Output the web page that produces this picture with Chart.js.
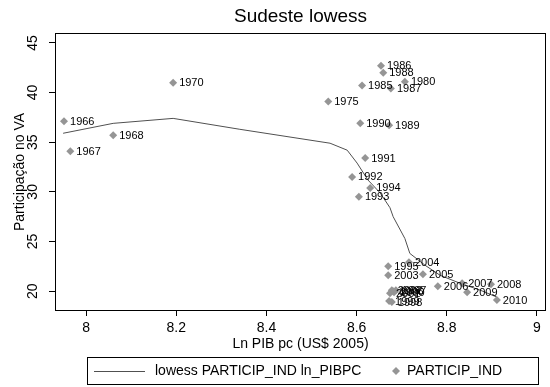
<!DOCTYPE html>
<html lang="pt">
<head>
<meta charset="UTF-8">
<title>Sudeste lowess</title>
<script src="https://cdn.jsdelivr.net/npm/chart.js"></script>
<style>
  body { margin: 0; background: #fff; }
  .grafico { width: 550px; height: 387px; }
</style>
</head>
<body>
<div class="grafico"><canvas id="meuGrafico"></canvas></div>
<script>
// dados (Ln PIB pc x participacao da industria)
var anos = ['1966', '1967', '1968', '1970', '1975', '1980', '1985', '1986', '1987', '1988',
            '1989', '1990', '1991', '1992', '1993', '1994', '1995', '1996', '1997', '1998',
            '1999', '2000', '2001', '2002', '2003', '2004', '2005', '2006', '2007', '2008',
            '2009', '2010'];
var lnPibpc = [7.951, 7.965, 8.060, 8.193, 8.537, 8.707, 8.612, 8.654, 8.676, 8.659,
               8.672, 8.608, 8.619, 8.590, 8.605, 8.630, 8.670, 8.681, 8.687, 8.678,
               8.672, 8.683, 8.674, 8.678, 8.670, 8.716, 8.747, 8.780, 8.834, 8.898,
               8.845, 8.911];
var participInd = [37.1, 34.1, 35.7, 41.0, 39.1, 41.1, 40.7, 42.7, 40.4, 42.0,
                   36.7, 36.9, 33.4, 31.5, 29.5, 30.4, 22.5, 20.0, 20.1, 18.9,
                   19.0, 19.9, 19.8, 20.1, 21.6, 22.9, 21.7, 20.5, 20.8, 20.7,
                   19.9, 19.1];

// curva lowess
var lowessX = [7.949, 8.060, 8.193, 8.341, 8.541, 8.579, 8.601, 8.625, 8.652, 8.674,
               8.681, 8.707, 8.718, 8.752, 8.785, 8.829, 8.874, 8.911];
var lowessY = [35.9, 36.9, 37.4, 36.3, 34.9, 34.2, 32.9, 31.2, 29.9, 28.4,
               27.5, 25.3, 23.8, 22.6, 21.6, 20.8, 20.1, 19.4];

var ticksX = [8, 8.2, 8.4, 8.6, 8.8, 9];
var ticksY = [20, 25, 30, 35, 40, 45];

var fonte = '"Liberation Sans", Arial, sans-serif';
var corPonto = '#959595';
var corLinha = '#505050';

function losango(ctx, x, y, r) {
  ctx.beginPath();
  ctx.moveTo(x, y - r);
  ctx.lineTo(x + r, y);
  ctx.lineTo(x, y + r);
  ctx.lineTo(x - r, y);
  ctx.closePath();
  ctx.fill();
}

var extras = {
  id: 'extras',
  afterDraw: function (chart) {
    var ctx = chart.ctx;
    var a = chart.chartArea;
    ctx.save();

    // moldura
    ctx.strokeStyle = '#000';
    ctx.lineWidth = 1;
    ctx.strokeRect(a.left + 0.5, a.top + 0.5, a.right - a.left - 1, a.bottom - a.top - 1);

    // rotulos do eixo y (verticais)
    var y = chart.scales.y;
    ctx.fillStyle = '#000';
    ctx.font = '14px ' + fonte;
    ctx.textAlign = 'center';
    ctx.textBaseline = 'middle';
    for (var i = 0; i < ticksY.length; i++) {
      var py = y.getPixelForValue(ticksY[i]);
      ctx.save();
      ctx.translate(33, py);
      ctx.rotate(-Math.PI / 2);
      ctx.fillText(String(ticksY[i]), 0, 0);
      ctx.restore();
    }

    // anos ao lado dos pontos
    var meta = chart.getDatasetMeta(0);
    ctx.font = '11px ' + fonte;
    ctx.textAlign = 'left';
    for (var j = 0; j < meta.data.length; j++) {
      var p = meta.data[j];
      ctx.fillText(anos[j], p.x + 6, p.y + 0.5);
    }

    // titulo
    ctx.font = '19px ' + fonte;
    ctx.textAlign = 'center';
    ctx.fillText('Sudeste lowess', (a.left + a.right) / 2, 17);

    // legenda
    ctx.strokeStyle = '#000';
    ctx.strokeRect(87.5, 357.5, 451, 27);
    ctx.strokeStyle = corLinha;
    ctx.beginPath();
    ctx.moveTo(94, 371.5);
    ctx.lineTo(145, 371.5);
    ctx.stroke();
    ctx.font = '14px ' + fonte;
    ctx.textAlign = 'left';
    ctx.fillStyle = '#000';
    ctx.fillText('lowess PARTICIP_IND ln_PIBPC', 155, 371.5);
    ctx.fillStyle = corPonto;
    losango(ctx, 396, 371, 4);
    ctx.fillStyle = '#000';
    ctx.fillText('PARTICIP_IND', 407, 371.5);

    ctx.restore();
  }
};

var pontos = [];
for (var k = 0; k < anos.length; k++) {
  pontos.push({ x: lnPibpc[k], y: participInd[k] });
}
var curva = [];
for (var m = 0; m < lowessX.length; m++) {
  curva.push({ x: lowessX[m], y: lowessY[m] });
}

var ctx = document.getElementById('meuGrafico').getContext('2d');
var grafico = new Chart(ctx, {
  type: 'scatter',
  data: {
    datasets: [{
      label: 'PARTICIP_IND',
      data: pontos,
      pointStyle: 'rectRot',
      pointRadius: 4,
      pointBackgroundColor: corPonto,
      pointBorderWidth: 0
    }, {
      label: 'lowess PARTICIP_IND ln_PIBPC',
      type: 'line',
      data: curva,
      showLine: true,
      borderColor: corLinha,
      borderWidth: 1,
      pointRadius: 0,
      tension: 0,
      fill: false
    }]
  },
  options: {
    animation: false,
    responsive: true,
    maintainAspectRatio: false,
    devicePixelRatio: 1,
    layout: { padding: { top: 33, right: 4, left: 0, bottom: 0 } },
    plugins: {
      legend: { display: false },
      title: { display: false },
      tooltip: { enabled: false }
    },
    scales: {
      x: {
        type: 'linear',
        min: 7.931,
        max: 9.02,
        afterBuildTicks: function (s) { s.ticks = ticksX.map(function (v) { return { value: v }; }); },
        afterFit: function (s) { s.height = 76; },
        grid: { display: true, drawOnChartArea: false, drawTicks: true, tickLength: 5, color: '#000' },
        border: { display: false },
        ticks: {
          color: '#000',
          font: { family: fonte, size: 14 },
          padding: 4,
          maxRotation: 0,
          autoSkip: false,
          callback: function (v) { return String(v); }
        },
        title: {
          display: true,
          text: 'Ln PIB pc (US$ 2005)',
          color: '#000',
          font: { family: fonte, size: 14 },
          padding: { top: 0, bottom: 34 }
        }
      },
      y: {
        type: 'linear',
        min: 18,
        max: 46,
        afterBuildTicks: function (s) { s.ticks = ticksY.map(function (v) { return { value: v }; }); },
        afterFit: function (s) { s.width = 55; },
        grid: { display: true, drawOnChartArea: false, drawTicks: true, tickLength: 6, color: '#000' },
        border: { display: false },
        ticks: { display: false },
        title: {
          display: true,
          text: 'Participação no VA',
          color: '#000',
          font: { family: fonte, size: 14 },
          padding: { top: 12, bottom: 0 }
        }
      }
    }
  },
  plugins: [extras]
});
</script>
</body>
</html>
